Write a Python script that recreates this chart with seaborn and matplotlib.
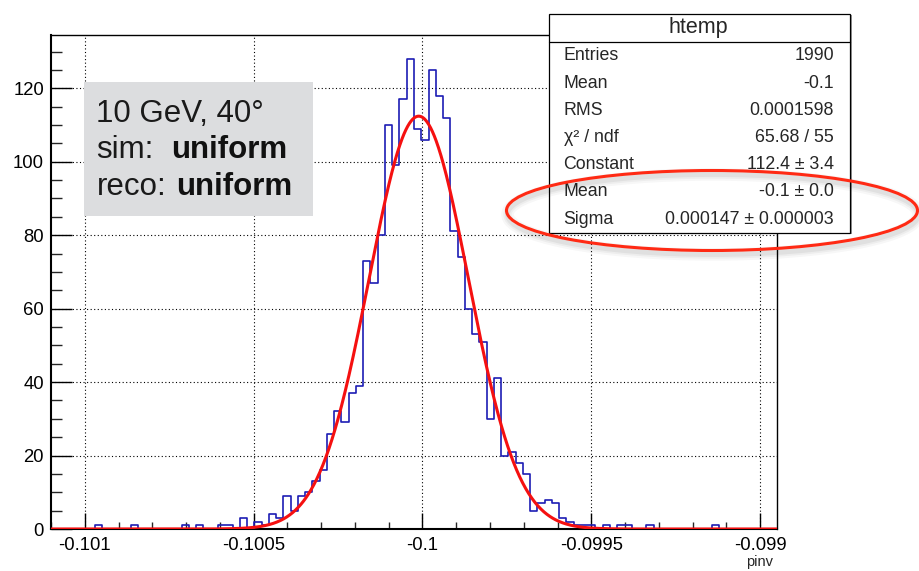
import numpy as np
import pandas as pd
import matplotlib
matplotlib.use("Agg")
import matplotlib.pyplot as plt
import seaborn as sns
from matplotlib.patches import Rectangle, Ellipse
from matplotlib.lines import Line2D
from matplotlib.ticker import MultipleLocator, FixedLocator

# ---------------- data ----------------
x_min = -0.10110
x_max = -0.09895
n_bins = 100
counts = [0, 0, 0, 0, 0, 0, 1, 0, 0, 0,
          0, 1, 0, 0, 0, 0, 0, 0, 1, 0,
          1, 0, 0, 1, 1, 0, 3, 0, 2, 1,
          4, 3, 9, 5, 9, 10, 13, 16, 26, 32,
          29, 37, 39, 73, 67, 80, 110, 99, 117, 128,
          109, 106, 125, 118, 112, 81, 74, 60, 53, 51,
          30, 41, 20, 21, 18, 15, 5, 7, 8, 7,
          3, 2, 1, 1, 1, 0, 1, 0, 1, 1,
          0, 0, 1, 0, 0, 0, 0, 0, 0, 0,
          0, 1, 0, 0, 0, 0, 0, 0, 0, 0]

fit_constant = 112.4
fit_mean = -0.100011
fit_sigma = 0.000147

x_ticks = [-0.101, -0.1005, -0.1, -0.0995, -0.099]
x_tick_labels = ["-0.101", "-0.1005", "-0.1", "-0.0995", "-0.099"]
y_ticks = [0, 20, 40, 60, 80, 100, 120]
y_tick_labels = ["0", "20", "40", "60", "80", "100", "120"]
y_max = 134.5
x_title = "pinv"

stats_title = "htemp"
stats_labels = ["Entries", "Mean", "RMS", "\u03c7\u00b2 / ndf", "Constant", "Mean", "Sigma"]
stats_values = ["1990", "-0.1", "0.0001598", "65.68 / 55", "112.4 \u00b1 3.4",
                "-0.1 \u00b1 0.0", "0.000147 \u00b1 0.000003"]

box_line1 = "10 GeV, 40\u00b0"
box_sim_label = "sim:"
box_reco_label = "reco:"
box_value = "uniform"

# ---------------- style ----------------
sns.set_style("white")
plt.rcParams["font.family"] = ["Liberation Sans", "DejaVu Sans"]

W, H = 919, 571
fig = plt.figure(figsize=(W / 100, H / 100), dpi=100)

def fx(px):
    return px / W

def fy(py):
    return 1 - py / H

ax_l, ax_r, ax_t, ax_b = 51, 777, 35, 529
ax = fig.add_axes([fx(ax_l), fy(ax_b), fx(ax_r) - fx(ax_l), fy(ax_t) - fy(ax_b)])

edges = np.linspace(x_min, x_max, n_bins + 1)
centers = 0.5 * (edges[:-1] + edges[1:])
df = pd.DataFrame({"pinv": centers, "w": np.asarray(counts, dtype=float)})

sns.histplot(data=df, x="pinv", weights="w", bins=n_bins, binrange=(x_min, x_max),
             element="step", fill=False, color="#1c1cb4", linewidth=1.2, ax=ax, zorder=3)

xs = np.linspace(x_min, x_max, 1200)
ys = fit_constant * np.exp(-0.5 * ((xs - fit_mean) / fit_sigma) ** 2)
sns.lineplot(x=xs, y=ys, color="#f51010", linewidth=2.2, ax=ax, zorder=4)

ax.set_xlim(x_min, x_max)
ax.set_ylim(0, y_max)
ax.set_xlabel("")
ax.set_ylabel("")

ax.xaxis.set_major_locator(FixedLocator(x_ticks))
ax.set_xticklabels(x_tick_labels)
ax.xaxis.set_minor_locator(MultipleLocator(0.0001))
ax.yaxis.set_major_locator(FixedLocator(y_ticks))
ax.set_yticklabels(y_tick_labels)
ax.yaxis.set_minor_locator(MultipleLocator(5))

ax.tick_params(axis="x", which="major", direction="in", length=11.5, width=1.0,
               top=False, bottom=True, pad=6, labelsize=13.3, colors="black")
ax.tick_params(axis="x", which="minor", direction="in", length=5.4, width=1.0,
               top=False, bottom=True)
ax.tick_params(axis="y", which="major", direction="in", length=15, width=1.0,
               right=False, left=True, pad=5.0, labelsize=13.3, colors="black")
ax.tick_params(axis="y", which="minor", direction="in", length=7.8, width=1.0,
               right=False, left=True)

ax.grid(True, which="major", linestyle=(0, (1, 2.2)), color="black", linewidth=0.8)
ax.set_axisbelow(True)
for side in ["left", "bottom"]:
    ax.spines[side].set_linewidth(1.5)
    ax.spines[side].set_color("black")
for side in ["top", "right"]:
    ax.spines[side].set_linewidth(1.0)
    ax.spines[side].set_color("black")
ax.spines["bottom"].set_zorder(2.5)

fig.text(fx(773), fy(562), x_title, ha="right", va="center", fontsize=10.5)

# ---------------- gray annotation box ----------------
fig.patches.append(Rectangle((fx(84), fy(215.7)), fx(312.7) - fx(84), fy(81.7) - fy(215.7),
                             transform=fig.transFigure, facecolor="#dcdddf",
                             edgecolor="none", zorder=1))
tsize = 22.5
fig.text(fx(96.5), fy(121.7), box_line1, ha="left", va="baseline", fontsize=tsize,
         color="#1a1a1a", zorder=5)
fig.text(fx(96.5), fy(158.3), box_sim_label, ha="left", va="baseline", fontsize=tsize,
         color="#1a1a1a", zorder=5)
fig.text(fx(171.5), fy(158.3), box_value, ha="left", va="baseline", fontsize=tsize,
         fontweight="bold", color="#111111", zorder=5)
fig.text(fx(96.5), fy(195), box_reco_label, ha="left", va="baseline", fontsize=tsize,
         color="#1a1a1a", zorder=5)
fig.text(fx(176.5), fy(195), box_value, ha="left", va="baseline", fontsize=tsize,
         fontweight="bold", color="#111111", zorder=5)

# ---------------- stats box ----------------
sb_l, sb_r, sb_t, sb_b = 549, 850, 14, 232.7
fig.patches.append(Rectangle((fx(sb_l + 1.5), fy(sb_b + 1.5)), fx(sb_r) - fx(sb_l), fy(sb_t) - fy(sb_b),
                             transform=fig.transFigure, facecolor="#9a9a9a",
                             edgecolor="none", zorder=1.5))
fig.patches.append(Rectangle((fx(sb_l), fy(sb_b)), fx(sb_r) - fx(sb_l), fy(sb_t) - fy(sb_b),
                             transform=fig.transFigure, facecolor="white",
                             edgecolor="black", linewidth=0.9, zorder=2))
fig.lines.append(Line2D([fx(sb_l), fx(sb_r)], [fy(41.7), fy(41.7)], transform=fig.transFigure,
                        color="black", linewidth=0.9, zorder=2.1))
fig.text(fx(698), fy(27.5), stats_title, ha="center", va="center", fontsize=15.5, zorder=5)
row0, row_step = 56.0, 27.2
for i, (lab, val) in enumerate(zip(stats_labels, stats_values)):
    yy = row0 + i * row_step
    fig.text(fx(563.5), fy(yy), lab, ha="left", va="center", fontsize=12.8, zorder=5)
    fig.text(fx(834), fy(yy), val, ha="right", va="center", fontsize=12.8, zorder=5)

# ---------------- red ellipse highlight ----------------
e_cx, e_cy, e_w, e_h = 712, 210.5, 411, 80
for lw, a in [(9, 0.03), (6, 0.04), (3.5, 0.05)]:
    fig.patches.append(Ellipse((fx(e_cx + 1), fy(e_cy + 4)), fx(e_w), e_h / H,
                               transform=fig.transFigure, fill=False,
                               edgecolor="#000000", linewidth=lw, alpha=a, zorder=6))
fig.patches.append(Ellipse((fx(e_cx), fy(e_cy)), fx(e_w), e_h / H,
                           transform=fig.transFigure, fill=False,
                           edgecolor="#ff2a14", linewidth=2.2, zorder=7))

fig.savefig("out.png", dpi=100)
